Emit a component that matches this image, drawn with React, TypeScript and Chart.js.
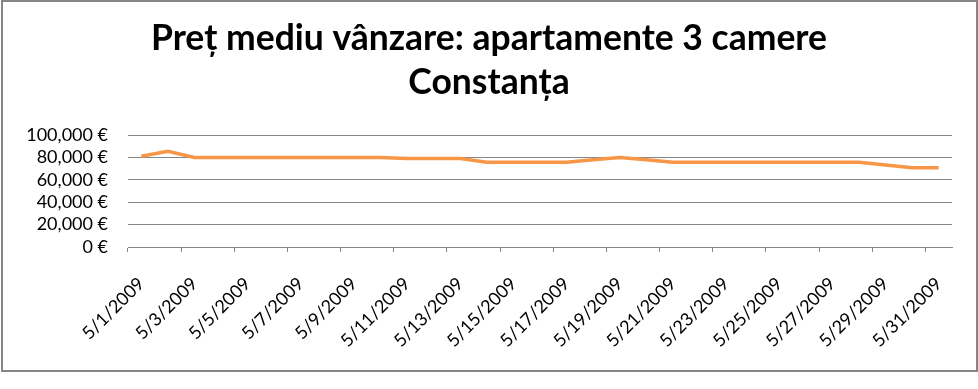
import React, { useEffect, useRef } from "react";
import { Chart, registerables } from "chart.js";

Chart.register(...registerables);

const TITLE_LINES = ["Preț mediu vânzare: apartamente 3 camere", "Constanța"];

const DATES = [
  "5/1/2009", "5/2/2009", "5/3/2009", "5/4/2009", "5/5/2009", "5/6/2009", "5/7/2009", "5/8/2009",
  "5/9/2009", "5/10/2009", "5/11/2009", "5/12/2009", "5/13/2009", "5/14/2009", "5/15/2009", "5/16/2009",
  "5/17/2009", "5/18/2009", "5/19/2009", "5/20/2009", "5/21/2009", "5/22/2009", "5/23/2009", "5/24/2009",
  "5/25/2009", "5/26/2009", "5/27/2009", "5/28/2009", "5/29/2009", "5/30/2009", "5/31/2009",
];

const PRICES = [
  81000, 85500, 80000, 80000, 80000, 80000, 80000, 80000,
  80000, 80000, 79000, 79000, 79000, 75700, 75700, 75700,
  75700, 77800, 79800, 77800, 75700, 75700, 75700, 75700,
  75700, 75700, 75700, 75700, 73200, 70800, 70800,
];

const Y_MIN = 0;
const Y_MAX = 100000;
const Y_STEP = 20000;

const LINE_COLOR = "#F79646";
const GRID_COLOR = "#868686";
const FONT = "Lato";

export default function App() {
  const ref = useRef<HTMLCanvasElement>(null);

  useEffect(() => {
    document.body.style.margin = "0";
    const canvas = ref.current!;
    const chart = new Chart(canvas, {
      type: "line",
      data: {
        labels: DATES,
        datasets: [
          {
            data: PRICES,
            borderColor: LINE_COLOR,
            backgroundColor: LINE_COLOR,
            borderWidth: 3.5,
            pointRadius: 0,
            tension: 0,
            fill: false,
          },
        ],
      },
      options: {
        responsive: false,
        animation: false,
        devicePixelRatio: 1,
        layout: { padding: { left: 0, right: 0, top: 0, bottom: 0 } },
        plugins: {
          legend: { display: false },
          tooltip: { enabled: false },
          title: {
            display: true,
            text: TITLE_LINES,
            color: "#000",
            font: { family: FONT, size: 35.5, weight: "bold", lineHeight: 44 / 35.5 },
            padding: { top: 17, bottom: 30 },
          },
        },
        scales: {
          x: {
            type: "category",
            offset: true,
            grid: {
              display: true,
              offset: true,
              drawOnChartArea: false,
              drawTicks: true,
              tickLength: 5,
              color: (c: any) => (c.index % 2 === 0 && c.index < DATES.length ? GRID_COLOR : "rgba(0,0,0,0)"),
            },
            border: { display: true, color: GRID_COLOR, width: 1 },
            ticks: {
              autoSkip: false,
              minRotation: 45,
              maxRotation: 45,
              padding: 21,
              color: "#000",
              font: { family: FONT, size: 18 },
              callback: (_v: any, i: number) => (i % 2 === 0 ? DATES[i] : ""),
            },
            afterFit: (scale: any) => {
              scale.height = 142;
            },
          },
          y: {
            min: Y_MIN,
            max: Y_MAX,
            grid: {
              color: GRID_COLOR,
              lineWidth: 1,
              drawTicks: false,
            },
            border: { display: false },
            ticks: {
              autoSkip: false,
              stepSize: Y_STEP,
              padding: 20,
              color: "#000",
              font: { family: FONT, size: 18 },
              callback: (v: any) => Number(v).toLocaleString("en-US") + " €",
            },
            afterFit: (scale: any) => {
              scale.width = 128;
            },
          },
          yRightSpace: {
            type: "linear",
            position: "right",
            display: true,
            grid: { display: false, drawTicks: false },
            border: { display: false },
            ticks: { display: false },
            afterFit: (scale: any) => {
              scale.width = 26;
            },
          },
        },
      },
    });
    return () => chart.destroy();
  }, []);

  return (
    <div style={{ position: "relative", width: 978, height: 389, background: "#fff" }}>
      <canvas
        ref={ref}
        width={978}
        height={389}
        style={{ position: "absolute", left: 0, top: 0, width: 978, height: 389 }}
      />
      <div
        style={{
          position: "absolute",
          left: 1,
          top: 0,
          width: 977,
          height: 372,
          border: "2px solid #868686",
          boxSizing: "border-box",
          pointerEvents: "none",
        }}
      />
    </div>
  );
}
